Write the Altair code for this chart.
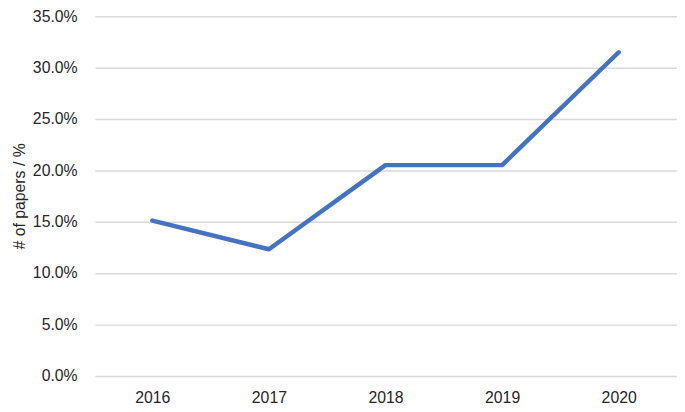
import altair as alt
import pandas as pd

years = [2016, 2017, 2018, 2019, 2020]
share = [0.151, 0.123, 0.205, 0.205, 0.315]
y_ticks = [0.0, 0.05, 0.10, 0.15, 0.20, 0.25, 0.30, 0.35]

df = pd.DataFrame({"year": years, "share": share})

FONT = "Liberation Sans"
TXT = "#262626"
H = 363.5

chart = alt.Chart(df).mark_line(
    color="#4472C4", strokeWidth=4.5, strokeCap="round", strokeJoin="round"
).encode(
    x=alt.X("year:Q",
            scale=alt.Scale(domain=[2015.508, 2020.5], nice=False, zero=False),
            axis=alt.Axis(values=years, format="d", title=None, grid=False,
                          domain=False, ticks=False, labelPadding=14,
                          labelFontSize=16, labelFont=FONT, labelColor=TXT)),
    y=alt.Y("share:Q",
            scale=alt.Scale(domain=[0, 0.35], nice=False),
            axis=alt.Axis(values=y_ticks, format=".1%", title="# of papers / %",
                          grid=True, gridColor="#d9d9d9", gridWidth=1.5,
                          domain=False, ticks=False, labelPadding=18,
                          labelFontSize=16, labelFont=FONT, labelColor=TXT,
                          titleFontSize=16, titleFont=FONT, titleColor=TXT,
                          titleFontWeight="normal", titleX=-68, titleY=H / 2)),
).properties(
    width=589, height=H,
    autosize=alt.AutoSizeParams(type="none"),
    padding={"left": 88, "top": 6, "right": 0, "bottom": 34},
).configure_view(stroke=None)

chart.save("out.html", embed_options={"renderer": "svg", "actions": False})
